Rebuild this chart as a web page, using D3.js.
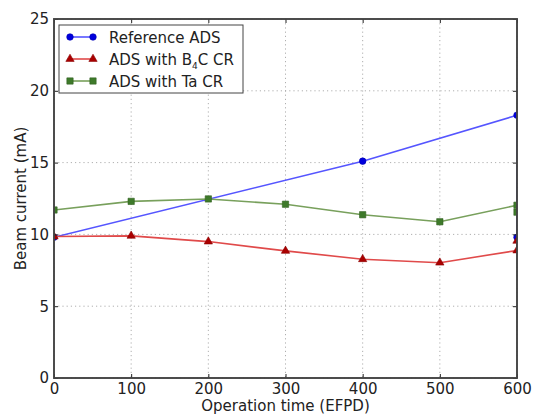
<!DOCTYPE html>
<html>
<head>
<meta charset="utf-8">
<script src="https://cdn.jsdelivr.net/npm/d3@7"></script>
<style>
  body { margin: 0; background: #fff; }
  text { font-family: "DejaVu Sans", sans-serif; fill: #222; }
</style>
</head>
<body>
<svg id="chart" width="535" height="415"></svg>
<script>
// values
const refDays = [0, 400, 600, 600];
const refCurrent = [9.8, 15.1, 18.3, 9.8];
const b4cDays = [0, 100, 200, 300, 400, 500, 600, 600];
const b4cCurrent = [9.85, 9.9, 9.5, 8.85, 8.27, 8.03, 8.88, 9.55];
const taDays = [0, 100, 200, 300, 400, 500, 600, 600];
const taCurrent = [11.7, 12.3, 12.47, 12.1, 11.37, 10.88, 12.03, 11.55];
const xTicks = [0, 100, 200, 300, 400, 500, 600];
const yTicks = [0, 5, 10, 15, 20, 25];

const series = [
    { name: "Reference ADS", x: refDays, y: refCurrent, line: "#5555ff", fill: "#0000dd", marker: "circle" },
    { name: "ADS with B4C CR", x: b4cDays, y: b4cCurrent, line: "#e04a4a", fill: "#aa0000", marker: "triangle" },
    { name: "ADS with Ta CR", x: taDays, y: taCurrent, line: "#78a05c", fill: "#3e7a2a", marker: "square" }
];

const margin = { top: 19, right: 18, bottom: 37, left: 54 };
const width = 535 - margin.left - margin.right;
const height = 415 - margin.top - margin.bottom;
const fontSize = 15;

const svg = d3.select("#chart");
const g = svg.append("g").attr("transform", `translate(${margin.left}, ${margin.top})`);

const x = d3.scaleLinear().domain([0, 600]).range([0, width]);
const y = d3.scaleLinear().domain([0, 25]).range([height, 0]);

svg.append("defs").append("clipPath").attr("id", "plot-clip")
    .append("rect").attr("width", width).attr("height", height);

// dotted grid
g.append("g").selectAll("line").data(xTicks).enter().append("line")
    .attr("x1", d => x(d)).attr("x2", d => x(d))
    .attr("y1", 0).attr("y2", height)
    .attr("stroke", "#9a9a9a").attr("stroke-width", 0.8).attr("stroke-dasharray", "1.2,3");
g.append("g").selectAll("line").data(yTicks).enter().append("line")
    .attr("x1", 0).attr("x2", width)
    .attr("y1", d => y(d)).attr("y2", d => y(d))
    .attr("stroke", "#9a9a9a").attr("stroke-width", 0.8).attr("stroke-dasharray", "1.2,3");

const plot = g.append("g").attr("clip-path", "url(#plot-clip)");

const symbolFor = {
    circle: d3.symbol().type(d3.symbolCircle).size(34),
    triangle: d3.symbol().type(d3.symbolTriangle).size(30),
    square: d3.symbol().type(d3.symbolSquare).size(40)
};

series.forEach(s => {
    const pts = s.x.map((d, i) => [d, s.y[i]]);
    plot.append("path")
        .datum(pts)
        .attr("fill", "none")
        .attr("stroke", s.line)
        .attr("stroke-width", 1.6)
        .attr("d", d3.line().x(d => x(d[0])).y(d => y(d[1])));
    plot.selectAll(null).data(pts).enter().append("path")
        .attr("transform", d => `translate(${x(d[0])}, ${y(d[1])})`)
        .attr("d", symbolFor[s.marker]())
        .attr("fill", s.fill)
        .attr("stroke", d3.color(s.fill).darker(0.6))
        .attr("stroke-width", 0.6);
});

// axes: inward ticks on all four sides (matplotlib classic)
const tickIn = 4;
g.append("g").attr("transform", `translate(0, ${height})`)
    .call(d3.axisBottom(x).tickValues(xTicks).tickSize(-tickIn).tickPadding(5).tickFormat(d3.format("d")));
g.append("g")
    .call(d3.axisLeft(y).tickValues(yTicks).tickSize(-tickIn).tickPadding(5).tickFormat(d3.format("d")));
g.append("g")
    .call(d3.axisTop(x).tickValues(xTicks).tickSize(-tickIn).tickFormat(""));
g.append("g").attr("transform", `translate(${width}, 0)`)
    .call(d3.axisRight(y).tickValues(yTicks).tickSize(-tickIn).tickFormat(""));

g.selectAll(".domain").remove();
g.selectAll(".tick line").attr("stroke", "#222");
g.selectAll(".tick text").attr("font-size", fontSize).attr("fill", "#222");

g.append("rect")
    .attr("width", width).attr("height", height)
    .attr("fill", "none").attr("stroke", "#444").attr("stroke-width", 1.9);

// axis titles
svg.append("text")
    .attr("x", margin.left + width / 2).attr("y", 411)
    .attr("text-anchor", "middle").attr("font-size", fontSize)
    .text("Operation time (EFPD)");
svg.append("text")
    .attr("transform", `translate(26, ${margin.top + height / 2}) rotate(-90)`)
    .attr("text-anchor", "middle").attr("font-size", fontSize)
    .text("Beam current (mA)");

// legend
const legend = g.append("g").attr("transform", "translate(5, 6)");
legend.append("rect")
    .attr("width", 184).attr("height", 68)
    .attr("fill", "#fff").attr("stroke", "#444").attr("stroke-width", 1);

series.forEach((s, i) => {
    const row = legend.append("g").attr("transform", `translate(0, ${12 + i * 22})`);
    row.append("line")
        .attr("x1", 11).attr("x2", 34).attr("y1", 0).attr("y2", 0)
        .attr("stroke", s.line).attr("stroke-width", 1.6);
    [11, 34].forEach(px => {
        row.append("path")
            .attr("transform", `translate(${px}, 0)`)
            .attr("d", symbolFor[s.marker]())
            .attr("fill", s.fill)
            .attr("stroke", d3.color(s.fill).darker(0.6))
            .attr("stroke-width", 0.6);
    });
    const t = row.append("text").attr("x", 50).attr("y", 5.5).attr("font-size", fontSize);
    if (s.name === "ADS with B4C CR") {
        t.append("tspan").text("ADS with B");
        t.append("tspan").attr("font-size", 9).attr("dy", 4).text("4");
        t.append("tspan").attr("dy", -4).text("C CR");
    } else {
        t.text(s.name);
    }
});
</script>
</body>
</html>
